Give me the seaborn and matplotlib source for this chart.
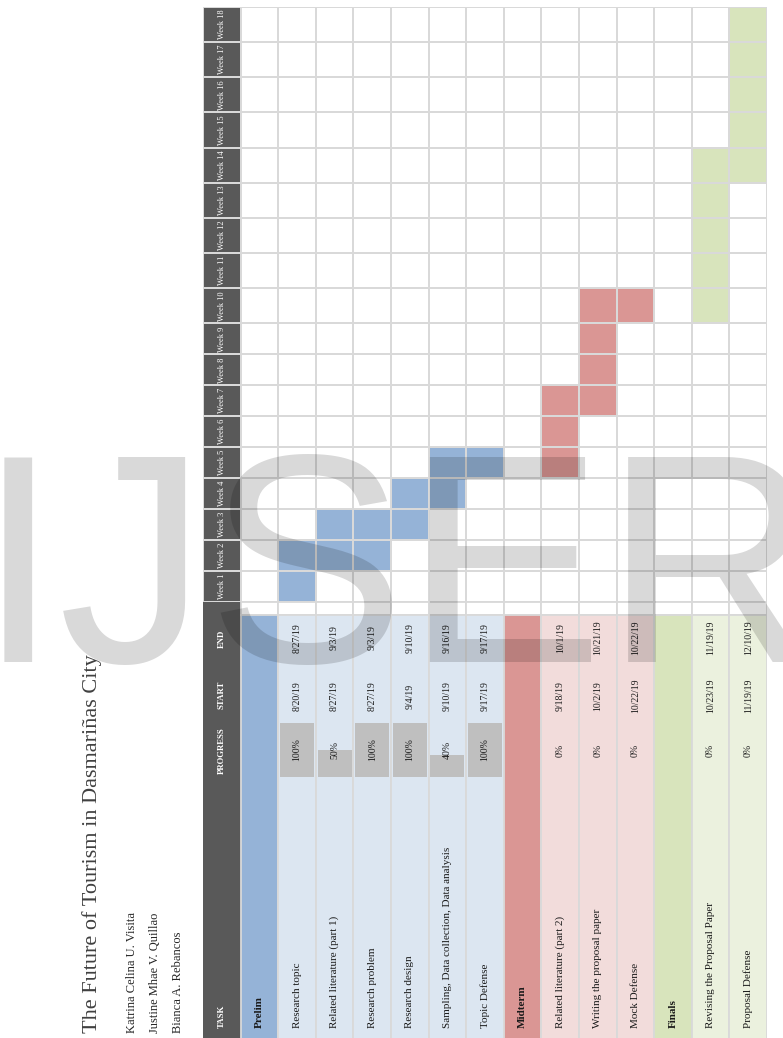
import numpy as np
import pandas as pd
import matplotlib.pyplot as plt
import seaborn as sns
from matplotlib.colors import ListedColormap

# -----------------------------
# Gantt data
# -----------------------------
tasks = ["Prelim", "Research topic", "Related literature (part 1)", "Research problem",
         "Research design", "Sampling, Data collection, Data analysis", "Topic Defense",
         "Midterm", "Related literature (part 2)", "Writing the proposal paper", "Mock Defense",
         "Finals", "Revising the Proposal Paper", "Proposal Defense"]
is_section = [True, False, False, False, False, False, False,
              True, False, False, False,
              True, False, False]
phase = ["Prelim"] * 7 + ["Midterm"] * 4 + ["Finals"] * 3
progress = [None, 1.0, 0.5, 1.0, 1.0, 0.4, 1.0, None, 0.0, 0.0, 0.0, None, 0.0, 0.0]
start_dates = ["", "8/20/19", "8/27/19", "8/27/19", "9/4/19", "9/10/19", "9/17/19",
               "", "9/18/19", "10/2/19", "10/22/19", "", "10/23/19", "11/19/19"]
end_dates = ["", "8/27/19", "9/3/19", "9/3/19", "9/10/19", "9/16/19", "9/17/19",
             "", "10/1/19", "10/21/19", "10/22/19", "", "11/19/19", "12/10/19"]
start_week = [None, 1, 2, 2, 3, 4, 5, None, 5, 7, 10, None, 10, 14]
end_week = [None, 2, 3, 3, 4, 5, 5, None, 7, 10, 10, None, 14, 18]
weeks = list(range(18, 0, -1))

title = "The Future of Tourism in Dasmariñas City"
authors = ["Katrina Celina U. Visita", "Justine Mhae V. Quillao", "Bianca A. Rebancos"]

# -----------------------------
# Colours
# -----------------------------
dark = "#595959"
grid_c = "#D9D9D9"
sec_color = {"Prelim": "#95B3D7", "Midterm": "#DA9694", "Finals": "#D8E4BC"}
row_color = {"Prelim": "#DCE6F1", "Midterm": "#F2DCDB", "Finals": "#EBF1DE"}
code = {"Prelim": 1, "Midterm": 2, "Finals": 3}

sns.set_theme(style="white")
plt.rcParams["font.family"] = ["Liberation Serif", "DejaVu Serif"]

W, H = 783, 1038
fig = plt.figure(figsize=(W / 100, H / 100), dpi=100)


def box(x0, y0, x1, y1):
    return [x0 / W, 1 - y1 / H, (x1 - x0) / W, (y1 - y0) / H]


# -----------------------------
# Gantt grid (heatmap)
# -----------------------------
mat = np.zeros((len(weeks), len(tasks) + 1))
mat[:, 0] = 4
for j, t in enumerate(tasks):
    if start_week[j] is None:
        continue
    for r, w in enumerate(weeks):
        if start_week[j] <= w <= end_week[j]:
            mat[r, j + 1] = code[phase[j]]
gantt_df = pd.DataFrame(mat, index=[f"Week {w}" for w in weeks], columns=["header"] + tasks)

cmap = ListedColormap(["white", sec_color["Prelim"], sec_color["Midterm"], sec_color["Finals"], dark])
ax_g = fig.add_axes(box(203, 7, 767, 602))
sns.heatmap(gantt_df, ax=ax_g, cmap=cmap, vmin=-0.5, vmax=4.5, cbar=False,
            linewidths=1.3, linecolor=grid_c, xticklabels=False, yticklabels=False)

# two-digit weeks had wider columns in the sheet
top_h, bot_h = 35.1, 30.9


def fwd(r):
    r = np.asarray(r, dtype=float)
    return np.where(r <= 9, r * top_h, 9 * top_h + (r - 9) * bot_h)


def inv(p):
    p = np.asarray(p, dtype=float)
    return np.where(p <= 9 * top_h, p / top_h, 9 + (p - 9 * top_h) / bot_h)


ax_g.set_yscale("function", functions=(fwd, inv))
ax_g.set_ylim(len(weeks), 0)
ax_g.axis("off")
for r, w in enumerate(weeks):
    ax_g.text(0.5, r + 0.5, f"Week {w}", rotation=90, ha="center", va="center",
              color="white", fontsize=6)

# -----------------------------
# Task table
# -----------------------------
ax_t = fig.add_axes(box(203, 602, 767, 1040))
ax_t.set_xlim(0, len(tasks) + 1)
ax_t.set_ylim(1040, 602)
ax_t.axis("off")
xs = np.arange(len(tasks)) + 1.5
ax_t.bar(0.5, 1040 - 602, bottom=602, width=1, color=dark, linewidth=0)
ax_t.bar(xs, 615 - 602, bottom=602, width=1, color="white", edgecolor=grid_c, linewidth=1.3)
bg = [sec_color[p] if s else row_color[p] for p, s in zip(phase, is_section)]
ax_t.bar(xs, 1040 - 615, bottom=615, width=1, color=bg, edgecolor=grid_c, linewidth=1.3)

hdr = dict(rotation=90, ha="center", color="white", fontsize=6.3, fontweight="bold")
ax_t.text(0.5, 639, "END", va="center", **hdr)
ax_t.text(0.5, 695, "START", va="center", **hdr)
ax_t.text(0.5, 751, "PROGRESS", va="center", **hdr)
ax_t.text(0.5, 1028, "TASK", va="bottom", **hdr)

for x, name, sec, sd, ed in zip(xs, tasks, is_section, start_dates, end_dates):
    ax_t.text(x, 1028, name, rotation=90, ha="center", va="bottom", fontsize=8,
              fontweight="bold" if sec else "normal", color="#1a1a1a")
    if not sec:
        ax_t.text(x, 638, ed, rotation=90, ha="center", va="center", fontsize=7, color="#1a1a1a")
        ax_t.text(x, 696, sd, rotation=90, ha="center", va="center", fontsize=7, color="#1a1a1a")

# -----------------------------
# Progress bars
# -----------------------------
ax_p = fig.add_axes(box(203, 723, 767, 777))
ax_p.set_xlim(0, len(tasks) + 1)
ax_p.set_ylim(0, 1)
ax_p.axis("off")
px = [x for x, p in zip(xs, progress) if p is not None]
pv = [p for p in progress if p is not None]
ax_p.bar(px, pv, width=0.9, color="#BFBFBF", linewidth=0)
for x, p in zip(px, pv):
    ax_p.text(x, 0.5, f"{p:.0%}", rotation=90, ha="center", va="center", fontsize=7, color="#1a1a1a")

# -----------------------------
# Title, authors, watermark
# -----------------------------
fig.text(92 / W, 1 - 1033 / H, title, rotation=90, ha="center", va="bottom",
         fontsize=16, color="#404040")
for xpix, a in zip([132, 155, 178], authors):
    fig.text(xpix / W, 1 - 1033 / H, a, rotation=90, ha="center", va="bottom",
             fontsize=9, color="#262626")

fig.text(-23 / W, 1 - 662 / H, "IJSER", fontsize=214, family="Liberation Sans",
         color="black", alpha=0.15, ha="left", va="baseline")

fig.savefig("out.png", dpi=100)
